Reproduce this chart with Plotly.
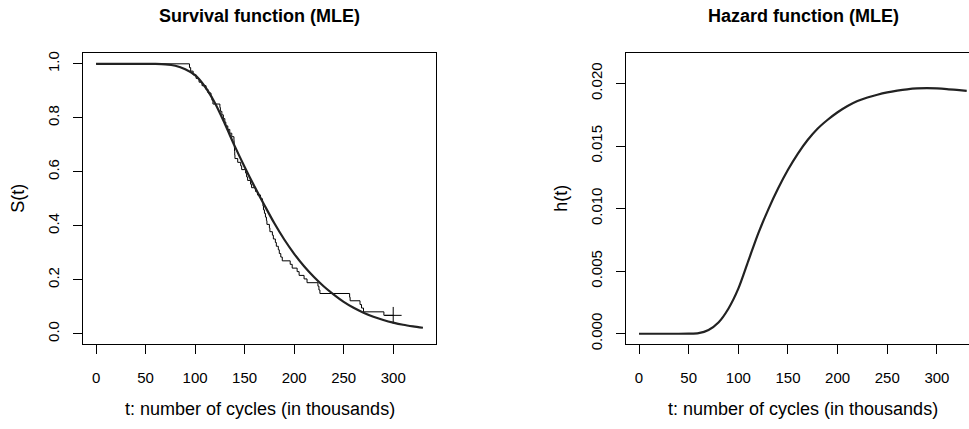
import plotly.graph_objects as go

# ---------------- data ----------------
# Kaplan-Meier estimate: event times and survival after each event
km_times = [94.3, 95.5, 98, 101, 104, 107, 111, 113, 116, 117, 118, 125, 125.5, 127,
            128.5, 130, 131, 133, 135, 137, 139.2, 139.4, 139.6, 139.8, 140, 140.2,
            143, 146, 147, 151, 152, 153, 156, 157, 161, 163, 166, 168, 168.5, 169,
            170, 171, 172, 172.5, 175, 175.5, 178, 179, 181, 182, 184, 185, 186.5,
            188, 196, 198, 203, 205, 210, 213, 224, 225, 226, 256, 256.5, 266.5,
            268, 270, 290.6]
km_surv = [0.986, 0.973, 0.959, 0.946, 0.932, 0.919, 0.905, 0.892, 0.878, 0.865, 0.851,
           0.838, 0.824, 0.811, 0.797, 0.784, 0.770, 0.757, 0.743, 0.730, 0.716, 0.703,
           0.689, 0.676, 0.662, 0.649, 0.635, 0.622, 0.608, 0.595, 0.581, 0.568, 0.554,
           0.541, 0.527, 0.514, 0.500, 0.486, 0.473, 0.459, 0.446, 0.432, 0.419, 0.405,
           0.392, 0.378, 0.365, 0.351, 0.338, 0.324, 0.311, 0.297, 0.284, 0.270, 0.257,
           0.243, 0.230, 0.216, 0.203, 0.189, 0.176, 0.162, 0.149, 0.135, 0.122, 0.108,
           0.095, 0.081, 0.068]
km_censor_time = [300]
km_censor_surv = [0.068]

# Fitted (MLE) survival curve
s_t = [0, 40, 60, 70, 80, 90, 100, 110, 120, 130, 140, 150, 160, 170, 180, 190, 200,
       210, 220, 230, 240, 250, 260, 270, 280, 290, 300, 310, 320, 330]
s_val = [1.0, 1.0, 0.9995, 0.998, 0.993, 0.980, 0.958, 0.915, 0.855, 0.778, 0.695, 0.618,
         0.545, 0.476, 0.409, 0.349, 0.296, 0.250, 0.210, 0.175, 0.145, 0.118, 0.096,
         0.078, 0.063, 0.051, 0.041, 0.033, 0.027, 0.022]

# Fitted (MLE) hazard curve
h_t = [0, 40, 50, 60, 70, 80, 90, 100, 110, 120, 130, 140, 150, 160, 170, 180, 190,
       200, 210, 220, 230, 240, 250, 260, 270, 280, 290, 300, 310, 320, 330]
h_val = [0, 0, 0.00001, 0.00005, 0.0003, 0.0009, 0.0020, 0.0036, 0.0058, 0.0080,
         0.0099, 0.0116, 0.0131, 0.0144, 0.0155, 0.0164, 0.0171, 0.0177, 0.0182,
         0.0186, 0.01888, 0.0191, 0.01928, 0.01942, 0.01953, 0.0196, 0.01962, 0.0196,
         0.01955, 0.01948, 0.0194]

x_ticks = [0, 50, 100, 150, 200, 250, 300]
s_ticks = [0.0, 0.2, 0.4, 0.6, 0.8, 1.0]
s_tick_text = ["0.0", "0.2", "0.4", "0.6", "0.8", "1.0"]
h_ticks = [0.0, 0.005, 0.010, 0.015, 0.020]
h_tick_text = ["0.000", "0.005", "0.010", "0.015", "0.020"]

# ---------------- figure ----------------
W, H = 969, 429
FONT = "Liberation Sans, Arial, Helvetica, sans-serif"


def fx(p):
    return p / W


def fy(p):
    return 1 - p / H


fig = go.Figure()

km_x = [0] + km_times + km_censor_time
km_y = [1.0] + km_surv + km_censor_surv
fig.add_trace(go.Scatter(x=km_x, y=km_y, mode="lines", line=dict(color="black", width=1, shape="hv"),
                         xaxis="x", yaxis="y", showlegend=False, hoverinfo="skip"))
fig.add_trace(go.Scatter(x=km_censor_time, y=km_censor_surv, mode="markers",
                         marker=dict(symbol="cross-thin", size=12, line=dict(color="black", width=1)),
                         xaxis="x", yaxis="y", showlegend=False, hoverinfo="skip"))
fig.add_trace(go.Scatter(x=s_t, y=s_val, mode="lines",
                         line=dict(color="#222222", width=2.2, shape="spline", smoothing=0.8),
                         xaxis="x", yaxis="y", showlegend=False, hoverinfo="skip"))
fig.add_trace(go.Scatter(x=h_t, y=h_val, mode="lines",
                         line=dict(color="#222222", width=2.2, shape="spline", smoothing=0.8),
                         xaxis="x2", yaxis="y2", showlegend=False, hoverinfo="skip"))

tickfont = dict(family=FONT, size=15, color="black")
common_x = dict(tickvals=x_ticks, ticks="outside", ticklen=9, tickcolor="black", tickwidth=1,
                showline=True, linecolor="black", linewidth=1, showgrid=False, zeroline=False,
                tickfont=tickfont, ticklabelstandoff=11)
common_y = dict(ticks="outside", ticklen=9, tickcolor="black", tickwidth=1,
                showline=True, linecolor="black", linewidth=1, showgrid=False, zeroline=False,
                tickfont=tickfont, tickangle=-90, ticklabelstandoff=8)

ydom = [fy(349), fy(52)]
fig.update_layout(
    width=W, height=H, margin=dict(l=0, r=0, t=0, b=0),
    paper_bgcolor="white", plot_bgcolor="white", hovermode=False,
    xaxis=dict(domain=[fx(83), fx(436)], range=[-13.2, 343.2], mirror=True, anchor="y", **common_x),
    yaxis=dict(domain=ydom, range=[-0.04, 1.04], tickvals=s_ticks, ticktext=s_tick_text,
               mirror=True, anchor="x", **common_y),
    xaxis2=dict(domain=[fx(626), 1.0], range=[-13.1, 332.3], mirror=True, anchor="y2", **common_x),
    yaxis2=dict(domain=ydom, range=[-0.00086, 0.02243], tickvals=h_ticks, ticktext=h_tick_text,
                mirror=False, anchor="x2", **common_y),
)

ann = []
title_font = dict(family=FONT, size=18, color="black")
lab_font = dict(family=FONT, size=18, color="black")
for cx, title in [(259.5, "Survival function (MLE)"), (803, "Hazard function (MLE)")]:
    ann.append(dict(x=fx(cx), y=fy(14), xref="paper", yref="paper", text="<b>" + title + "</b>",
                    showarrow=False, font=title_font, xanchor="center", yanchor="middle"))
    ann.append(dict(x=fx(cx), y=fy(415), xref="paper", yref="paper",
                    text="t: number of cycles (in thousands)", showarrow=False, font=lab_font,
                    xanchor="center", yanchor="middle"))
for cx, lab in [(18, "S(t)"), (561, "h(t)")]:
    ann.append(dict(x=fx(cx), y=fy(200.5), xref="paper", yref="paper", text=lab, textangle=-90,
                    showarrow=False, font=lab_font, xanchor="center", yanchor="middle"))
fig.update_layout(annotations=ann)

# remove the browser's default body margin so the figure fills the window exactly
fig.write_html("out.html", config={"displayModeBar": False, "staticPlot": True},
               post_script="document.body.style.margin='0';document.body.style.overflow='hidden';")
